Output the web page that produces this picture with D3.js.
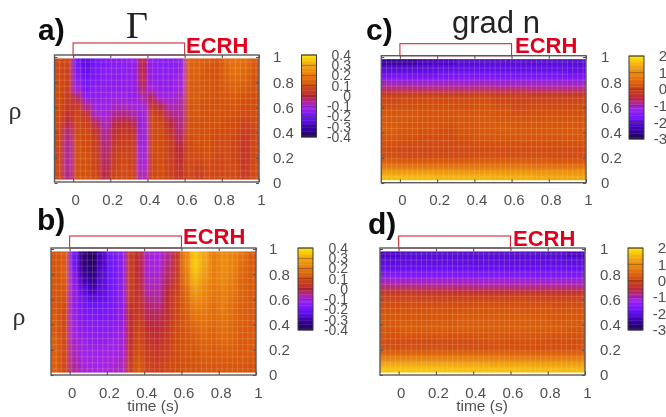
<!DOCTYPE html>
<html>
<head>
<meta charset="utf-8">
<script src="https://cdn.jsdelivr.net/npm/d3@7"></script>
<style>
  html, body { margin: 0; padding: 0; background: #fff; overflow: hidden; }
  text { font-family: "Liberation Sans", sans-serif; }
</style>
</head>
<body>
<div id="chart"></div>
<script>
// Values. Rows run from rho = 1 (top) to rho = 0 (bottom).
const timeTicks = [0, 0.2, 0.4, 0.6, 0.8, 1];
const rhoTicks = [0, 0.2, 0.4, 0.6, 0.8, 1];
const fluxTicks = [0.4, 0.3, 0.2, 0.1, 0, -0.1, -0.2, -0.3, -0.4];
const gradTicks = [2, 1, 0, -1, -2, -3];
const ecrhWindow = [0, 0.6];

const paletteColors = ['#1c0048', '#3c00b4', '#7014ff', '#a424e8', '#bc2838', '#d24c10', '#e87a10', '#f0a412', '#ffe600'];

const fluxA = [
  [.09, .08, -.2, -.24, -.2, -.17, -.16, -.15, -.13, .0, -.14, -.16, -.16, -.14, .15, .14, .13, .11, .16, .18, .17, .13],
  [.09, .07, -.18, -.22, -.18, -.16, -.16, -.15, -.14, .0, -.14, -.15, -.15, -.13, .14, .14, .12, .11, .15, .18, .16, .12],
  [.1, .07, -.15, -.2, -.17, -.15, -.15, -.14, -.14, .01, -.13, -.14, -.14, -.11, .14, .13, .12, .11, .14, .16, .15, .11],
  [.1, .06, -.11, -.18, -.15, -.14, -.15, -.13, -.14, -.03, -.1, -.13, -.13, -.1, .13, .13, .12, .11, .13, .15, .13, .11],
  [.1, .05, -.03, -.14, -.14, -.13, -.12, -.12, -.13, -.07, -.02, -.11, -.11, -.08, .13, .13, .12, .11, .12, .13, .11, .1],
  [.1, .04, .05, -.05, -.12, -.12, -.09, -.08, -.1, -.1, .04, -.01, -.08, -.07, .12, .12, .11, .11, .11, .12, .1, .1],
  [.1, .02, .08, .03, -.08, -.1, -.05, -.04, -.06, -.12, .08, .05, -.04, -.06, .12, .12, .11, .11, .11, .11, .09, .1],
  [.09, -.01, .09, .07, -.02, -.08, -.01, .01, -.01, -.13, .09, .08, 0, -.05, .11, .11, .11, .11, .1, .1, .07, .09],
  [.08, -.04, .1, .09, .03, -.06, .02, .04, .03, -.13, .09, .09, .03, -.04, .11, .11, .11, .1, .1, .09, .05, .08],
  [.08, -.05, .11, .1, .05, -.05, .04, .06, .05, -.13, .09, .1, .05, -.02, .1, .11, .11, .09, .09, .08, .04, .08],
  [.08, -.06, .11, .1, .06, -.04, .05, .07, .06, -.12, .09, .1, .05, 0, .09, .1, .11, .09, .09, .08, .03, .08],
  [.08, -.06, .11, .11, .07, -.03, .06, .08, .07, -.11, .08, .1, .06, .01, .09, .09, .11, .08, .09, .08, .03, .08],
  [.09, -.06, .11, .11, .07, -.02, .07, .09, .07, -.1, .08, .1, .06, .02, .09, .07, .09, .08, .09, .09, .04, .09],
  [.09, -.05, .11, .11, .08, -.01, .08, .09, .08, -.08, .08, .1, .07, .03, .08, .06, .09, .08, .09, .09, .05, .09]
];

const fluxB = [
  [.12, .13, -.2, -.36, -.38, -.28, -.2, -.16, .05, .0, -.09, -.1, -.05, .04, .22, .35, .3, .2, .24, .22, .18, .13],
  [.12, .13, -.2, -.35, -.37, -.27, -.2, -.16, .05, .0, -.09, -.1, -.04, .05, .22, .36, .3, .2, .24, .22, .17, .13],
  [.12, .14, -.17, -.32, -.35, -.26, -.2, -.16, .06, .0, -.09, -.09, -.03, .05, .2, .34, .28, .2, .24, .21, .16, .13],
  [.12, .13, -.15, -.28, -.33, -.25, -.2, -.15, .06, .01, -.08, -.08, -.02, .06, .19, .32, .26, .2, .23, .2, .15, .13],
  [.12, .12, -.13, -.24, -.28, -.24, -.2, -.15, .05, .02, -.07, -.07, 0, .07, .16, .28, .24, .19, .21, .19, .15, .13],
  [.12, .11, -.13, -.21, -.24, -.22, -.19, -.15, .05, .03, -.05, -.06, .0, .08, .15, .24, .22, .18, .2, .18, .15, .13],
  [.12, .1, -.13, -.19, -.2, -.2, -.18, -.15, .03, .04, -.03, -.04, .01, .08, .14, .21, .2, .17, .2, .17, .14, .13],
  [.13, .09, -.12, -.17, -.18, -.18, -.17, -.14, .02, .05, -.02, -.02, .02, .08, .13, .18, .19, .17, .19, .17, .14, .13],
  [.13, .09, -.11, -.16, -.16, -.16, -.16, -.13, .02, .07, .0, -.01, .03, .09, .13, .16, .18, .16, .18, .16, .14, .13],
  [.13, .09, -.1, -.14, -.15, -.15, -.14, -.12, .02, .08, .02, .01, .04, .1, .12, .14, .16, .15, .17, .16, .13, .13],
  [.14, .09, -.09, -.12, -.13, -.13, -.12, -.11, .03, .09, .03, .02, .05, .1, .12, .13, .15, .14, .16, .15, .13, .13],
  [.14, .09, -.08, -.11, -.12, -.12, -.11, -.1, .04, .1, .05, .04, .06, .1, .12, .12, .14, .13, .14, .14, .13, .13],
  [.14, .09, -.07, -.1, -.11, -.11, -.1, -.09, .05, .12, .06, .05, .07, .1, .11, .12, .13, .13, .13, .13, .13, .12],
  [.14, .09, -.06, -.09, -.1, -.1, -.09, -.08, .06, .13, .07, .06, .08, .1, .11, .11, .12, .12, .12, .12, .12, .11]
];

const gradC = [
  [-2.5, -2.5, -2.3, -2.2, -2.15, -2.1, -2.1, -2.1, -2.1, -2.1, -2.1],
  [-2.15, -2.15, -2.05, -2.0, -1.95, -1.95, -1.95, -1.95, -1.95, -1.95, -2.0],
  [-1.85, -1.85, -1.85, -1.8, -1.8, -1.8, -1.8, -1.8, -1.8, -1.8, -1.85],
  [-1.4, -1.45, -1.45, -1.45, -1.4, -1.4, -1.45, -1.45, -1.45, -1.45, -1.45],
  [-.85, -.85, -.9, -.9, -.9, -.85, -.9, -.9, -.95, -.95, -.95],
  [-.3, -.25, -.25, -.25, -.25, -.2, -.25, -.3, -.35, -.35, -.35],
  [0, .05, .05, .05, .05, .1, 0, -.05, -.05, -.05, -.05],
  [.1, .15, .15, .15, .15, .2, .1, 0, .05, .05, .05],
  [.2, .25, .2, .2, .2, .25, .2, .1, .15, .15, .15],
  [.3, .3, .25, .25, .25, .3, .25, .2, .2, .2, .2],
  [.3, .25, .2, .2, .25, .3, .3, .25, .25, .25, .25],
  [.35, .25, .2, .15, .25, .3, .35, .3, .3, .3, .3],
  [.3, .2, .15, .15, .2, .3, .3, .3, .3, .3, .3],
  [.2, .15, .1, .1, .15, .2, .25, .2, .2, .2, .2],
  [.15, .05, .05, .05, .1, .15, .15, .15, .15, .15, .15],
  [.05, 0, 0, 0, .05, .05, .1, .1, .1, .05, .05],
  [.2, .15, .15, .15, .15, .2, .2, .2, .2, .15, .15],
  [.55, .5, .5, .5, .5, .55, .55, .55, .5, .45, .45],
  [1.05, 1.0, 1.0, 1.0, 1.0, 1.0, 1.0, 1.0, .95, .95, .95],
  [1.6, 1.6, 1.6, 1.55, 1.55, 1.55, 1.5, 1.5, 1.45, 1.4, 1.4]
];

const gradD = [
  [-2.2, -2.15, -2.1, -2.1, -2.1, -2.1, -2.1, -2.1, -2.1, -2.15, -2.2],
  [-2.05, -2.0, -2.0, -2.0, -2.0, -2.0, -2.0, -2.0, -2.0, -2.0, -2.05],
  [-1.95, -1.9, -1.9, -1.9, -1.9, -1.9, -1.9, -1.9, -1.9, -1.9, -1.9],
  [-1.75, -1.75, -1.75, -1.75, -1.75, -1.75, -1.75, -1.75, -1.75, -1.75, -1.75],
  [-1.3, -1.35, -1.35, -1.35, -1.35, -1.35, -1.35, -1.35, -1.4, -1.4, -1.4],
  [-.85, -.85, -.9, -.9, -.9, -.95, -.95, -.95, -.95, -.95, -.95],
  [-.35, -.35, -.4, -.4, -.45, -.45, -.45, -.45, -.45, -.45, -.45],
  [-.05, -.05, -.1, -.1, -.1, -.1, -.1, -.05, -.05, -.1, -.1],
  [.1, .1, .1, .05, .1, .15, .15, .15, .1, .1, .1],
  [.2, .2, .2, .2, .2, .25, .25, .25, .25, .2, .2],
  [.25, .25, .25, .25, .3, .3, .3, .3, .3, .25, .25],
  [.3, .3, .3, .3, .35, .35, .35, .35, .35, .3, .3],
  [.3, .35, .35, .35, .35, .35, .35, .35, .35, .35, .3],
  [.25, .3, .3, .3, .3, .3, .3, .3, .3, .3, .25],
  [.15, .15, .15, .15, .15, .2, .2, .2, .2, .15, .15],
  [.1, .1, .1, .1, .1, .1, .15, .15, .15, .15, .15],
  [.25, .25, .25, .25, .25, .25, .25, .25, .25, .2, .2],
  [.7, .7, .7, .7, .7, .7, .7, .65, .65, .65, .65],
  [1.25, 1.25, 1.25, 1.25, 1.25, 1.25, 1.2, 1.2, 1.2, 1.15, 1.15],
  [1.7, 1.7, 1.7, 1.7, 1.65, 1.65, 1.65, 1.65, 1.6, 1.6, 1.6]
];

const width = 666, height = 417;

const svg = d3.select('#chart').append('svg')
    .attr('width', width)
    .attr('height', height)
    .attr('viewBox', [0, 0, width, height]);

// The reference is a soft scan, so everything gets a small blur
const defs = svg.append('defs');
defs.append('filter').attr('id', 'soft')
    .attr('filterUnits', 'userSpaceOnUse')
    .attr('x', 0).attr('y', 0).attr('width', width).attr('height', height)
    .append('feGaussianBlur').attr('stdDeviation', 0.45);
defs.append('filter').attr('id', 'smooth')
    .attr('x', '-5%').attr('y', '-5%').attr('width', '110%').attr('height', '110%')
    .append('feGaussianBlur').attr('stdDeviation', '2.2 2.6');

const root = svg.append('g').attr('filter', 'url(#soft)');

function colorFor(domain) {
    const stops = d3.range(paletteColors.length)
        .map(i => domain[0] + (domain[1] - domain[0]) * i / (paletteColors.length - 1));
    return d3.scaleLinear().domain(stops).range(paletteColors).clamp(true);
}

function drawPanel(p, i) {
    const g = root.append('g').attr('class', 'panel');
    const x = d3.scaleLinear().domain([-0.1, 1]).range([p.left, p.right]);
    const y = d3.scaleLinear().domain([0, 1]).range([p.rho0, p.rho1]);
    const color = colorFor(p.domain);

    const imgTop = p.top + 3.5, imgBottom = p.bottom - 2.5;
    const col = d3.scaleBand().domain(d3.range(p.values[0].length)).range([p.left, p.right]);
    const row = d3.scaleBand().domain(d3.range(p.values.length)).range([imgTop, imgBottom]);

    const clipId = 'clip-' + i;
    defs.append('clipPath').attr('id', clipId).append('rect')
        .attr('x', p.left).attr('y', imgTop)
        .attr('width', p.right - p.left).attr('height', imgBottom - imgTop);

    const image = g.append('g').attr('clip-path', `url(#${clipId})`);
    const cells = p.values.flatMap((r, ri) => r.map((v, ci) => ({ ri, ci, v })));

    // plain cells below, blurred copy above so the edges do not fade to white
    [image.append('g'), image.append('g').attr('filter', 'url(#smooth)')].forEach(layer => {
        layer.selectAll('rect')
            .data(cells)
            .join('rect')
            .attr('x', d => col(d.ci) - 0.3)
            .attr('y', d => row(d.ri) - 0.3)
            .attr('width', col.bandwidth() + 0.6)
            .attr('height', row.bandwidth() + 0.6)
            .attr('fill', d => color(d.v));
    });

    // faint mesh of the surface plot
    image.append('g').selectAll('line')
        .data(d3.range(-0.1, 1, 0.0278))
        .join('line')
        .attr('x1', d => x(d)).attr('x2', d => x(d))
        .attr('y1', imgTop).attr('y2', imgBottom)
        .attr('stroke', '#ffd8b0').attr('stroke-opacity', 0.26).attr('stroke-width', 0.8);
    image.append('g').selectAll('line')
        .data(d3.range(0, 1, 0.048))
        .join('line')
        .attr('x1', p.left).attr('x2', p.right)
        .attr('y1', d => y(d)).attr('y2', d => y(d))
        .attr('stroke', '#ffd8b0').attr('stroke-opacity', 0.24).attr('stroke-width', 0.8);

    // ECRH window, sits on top of the frame
    g.append('rect')
        .attr('x', x(ecrhWindow[0])).attr('y', p.top - 12)
        .attr('width', x(ecrhWindow[1]) - x(ecrhWindow[0])).attr('height', 12)
        .attr('fill', 'none').attr('stroke', '#cc2c38').attr('stroke-width', 1.1);

    // Axes
    const bottomAxis = g.append('g').attr('transform', `translate(0,${p.bottom})`)
        .call(d3.axisBottom(x).tickValues(timeTicks).tickFormat(d => d).tickSizeInner(-3.5).tickSizeOuter(0).tickPadding(12));
    const topAxis = g.append('g').attr('transform', `translate(0,${p.top})`)
        .call(d3.axisTop(x).tickValues(timeTicks).tickFormat('').tickSizeInner(-3).tickSizeOuter(0));
    const rightAxis = g.append('g').attr('transform', `translate(${p.right},0)`)
        .call(d3.axisRight(y).tickValues(rhoTicks).tickFormat(d => d).tickSizeInner(-3).tickSizeOuter(0).tickPadding(p.rhoLabelX - p.right));
    const leftAxis = g.append('g').attr('transform', `translate(${p.left},0)`)
        .call(d3.axisLeft(y).tickValues(rhoTicks).tickFormat('').tickSizeInner(-3).tickSizeOuter(0));
    [bottomAxis, topAxis, rightAxis, leftAxis].forEach(a => {
        a.select('.domain').remove();
        a.selectAll('line').attr('stroke', '#555').attr('stroke-width', 1.1);
        a.selectAll('text').attr('font-size', 15).attr('fill', '#505050').attr('font-family', '"Liberation Sans", sans-serif');
    });
    bottomAxis.selectAll('text').attr('dx', 2);

    g.append('rect')
        .attr('x', p.left).attr('y', p.top)
        .attr('width', p.right - p.left).attr('height', p.bottom - p.top)
        .attr('fill', 'none').attr('stroke', '#5a5a5a').attr('stroke-width', 1.4);

    // Colour bar
    const barScale = d3.scaleLinear().domain(p.domain).range([p.barBottom, p.barTop]);
    const barValues = d3.range(60).map(k => p.domain[0] + (p.domain[1] - p.domain[0]) * (k + 0.5) / 60);
    const barStep = (p.barBottom - p.barTop) / 60;
    g.append('g').selectAll('rect')
        .data(barValues)
        .join('rect')
        .attr('x', p.barX).attr('width', 15)
        .attr('y', d => barScale(d) - barStep / 2 - 0.2)
        .attr('height', barStep + 0.4)
        .attr('fill', d => color(d));
    g.append('g').selectAll('line')
        .data(p.barTicks)
        .join('line')
        .attr('x1', p.barX).attr('x2', p.barX + 15)
        .attr('y1', d => barScale(d)).attr('y2', d => barScale(d))
        .attr('stroke', '#3a2a20').attr('stroke-opacity', 0.55).attr('stroke-width', 0.8);
    g.append('rect')
        .attr('x', p.barX).attr('y', p.barTop)
        .attr('width', 15).attr('height', p.barBottom - p.barTop)
        .attr('fill', 'none').attr('stroke', '#3a3a3a').attr('stroke-width', 1);
    g.append('g').selectAll('text')
        .data(p.barTicks)
        .join('text')
        .attr('x', p.barLabelX)
        .attr('y', d => barScale(d))
        .attr('dy', '0.35em')
        .attr('text-anchor', 'end')
        .attr('font-size', p.barFont)
        .attr('fill', '#505050')
        .text(d => d);

    // Texts
    g.append('text').attr('x', p.tagX).attr('y', p.tagY)
        .attr('font-size', 30).attr('font-weight', 'bold').attr('fill', '#111').text(p.tag);
    g.append('text').attr('x', p.ecrhX).attr('y', p.ecrhY)
        .attr('font-size', 22).attr('font-weight', 'bold').attr('fill', '#e2001e').text('ECRH');
    if (p.rhoX) {
        g.append('text').attr('x', p.rhoX).attr('y', p.rhoY)
            .attr('font-size', 26).attr('text-anchor', 'middle').attr('fill', '#333')
            .style('font-family', '"Liberation Serif", serif').text('ρ');
    }
    if (p.timeX) {
        g.append('text').attr('x', p.timeX).attr('y', 411)
            .attr('font-size', 15.5).attr('text-anchor', 'middle').attr('fill', '#505050').text('time (s)');
    }
}

const panels = [
    { tag: 'a)', tagX: 38, tagY: 40, values: fluxA, domain: [-0.4, 0.4], barTicks: fluxTicks, barFont: 14,
      left: 54.5, right: 259, top: 55, bottom: 182, rho0: 183, rho1: 57, rhoLabelX: 273,
      barX: 301.5, barTop: 55, barBottom: 137, barLabelX: 351,
      ecrhX: 186, ecrhY: 53, rhoX: 15, rhoY: 119 },
    { tag: 'b)', tagX: 37, tagY: 230, values: fluxB, domain: [-0.4, 0.4], barTicks: fluxTicks, barFont: 14,
      left: 51, right: 256, top: 248, bottom: 375, rho0: 375, rho1: 249, rhoLabelX: 269,
      barX: 298, barTop: 248, barBottom: 330, barLabelX: 348,
      ecrhX: 183, ecrhY: 244, rhoX: 19, rhoY: 325, timeX: 153 },
    { tag: 'c)', tagX: 366, tagY: 40, values: gradC, domain: [-3, 2], barTicks: gradTicks, barFont: 15,
      left: 381.3, right: 586, top: 55.7, bottom: 182.7, rho0: 183, rho1: 57, rhoLabelX: 601,
      barX: 629, barTop: 56, barBottom: 139, barLabelX: 667,
      ecrhX: 515, ecrhY: 53 },
    { tag: 'd)', tagX: 368, tagY: 234, values: gradD, domain: [-3, 2], barTicks: gradTicks, barFont: 15,
      left: 380, right: 585, top: 248, bottom: 375, rho0: 375, rho1: 249, rhoLabelX: 600,
      barX: 628, barTop: 248, barBottom: 330, barLabelX: 666,
      ecrhX: 513, ecrhY: 246, timeX: 482 }
];

panels.forEach(drawPanel);

// Panel titles
root.append('text').attr('x', 137).attr('y', 38)
    .attr('font-size', 38).attr('text-anchor', 'middle').attr('fill', '#222')
    .style('font-family', '"Liberation Serif", serif').text('Γ');
root.append('text').attr('x', 496).attr('y', 33)
    .attr('font-size', 31).attr('text-anchor', 'middle').attr('fill', '#222').text('grad n');
</script>
</body>
</html>
